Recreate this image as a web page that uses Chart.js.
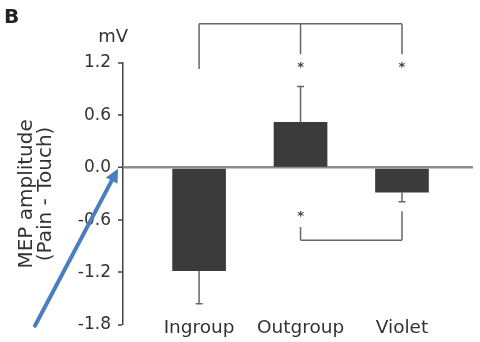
<!DOCTYPE html>
<html>
<head>
<meta charset="utf-8">
<script src="https://cdn.jsdelivr.net/npm/chart.js@4"></script>
<style>
  html, body { margin: 0; padding: 0; background: #fff; }
  #wrap { width: 480px; height: 342px; position: relative; }
</style>
</head>
<body>
<div id="wrap"><canvas id="chart"></canvas></div>
<script>
// 各条件の値（mV）
const categories = ['Ingroup', 'Outgroup', 'Violet'];
const meanValues = [-1.18, 0.52, -0.28];
const errorEnds = [-1.56, 0.93, -0.39];
const yTicks = [-1.8, -1.2, -0.6, 0.0, 0.6, 1.2];

// 有意差の括弧（上）: 高さ, 各脚の下端, アスタリスク
const topBracketLevel = 1.65;
const topBracketLegs = [1.13, 1.30, 1.30];
const topStars = [null, 1.17, 1.17];
// 有意差の括弧（下）: Outgroup - Violet
const bottomBracketLevel = -0.83;
const bottomBracketLegs = [null, -0.68, -0.50];
const bottomStars = [null, -0.54, null];

const FONT = '"DejaVu Sans", sans-serif';
const INK = '#333';
const LINE = '#666';

// 誤差棒・括弧・注釈を描くプラグイン
const extras = {
  id: 'extras',
  afterDatasetsDraw(chart) {
    const ctx = chart.ctx;
    const x = chart.scales.x, y = chart.scales.y;
    const px = i => x.getPixelForValue(i + 1);
    ctx.save();
    ctx.strokeStyle = LINE;
    ctx.lineWidth = 1.5;

    // 誤差棒
    meanValues.forEach((v, i) => {
      const cx = px(i);
      ctx.beginPath();
      ctx.moveTo(cx, y.getPixelForValue(v));
      ctx.lineTo(cx, y.getPixelForValue(errorEnds[i]));
      ctx.moveTo(cx - 3.5, y.getPixelForValue(errorEnds[i]));
      ctx.lineTo(cx + 3.5, y.getPixelForValue(errorEnds[i]));
      ctx.stroke();
    });

    // 上の括弧
    ctx.beginPath();
    ctx.moveTo(px(0), y.getPixelForValue(topBracketLevel));
    ctx.lineTo(px(2), y.getPixelForValue(topBracketLevel));
    topBracketLegs.forEach((end, i) => {
      ctx.moveTo(px(i), y.getPixelForValue(topBracketLevel));
      ctx.lineTo(px(i), y.getPixelForValue(end));
    });
    ctx.stroke();

    // 下の括弧
    ctx.beginPath();
    ctx.moveTo(px(1), y.getPixelForValue(bottomBracketLevel));
    ctx.lineTo(px(2), y.getPixelForValue(bottomBracketLevel));
    bottomBracketLegs.forEach((end, i) => {
      if (end === null) return;
      ctx.moveTo(px(i), y.getPixelForValue(bottomBracketLevel));
      ctx.lineTo(px(i), y.getPixelForValue(end));
    });
    ctx.stroke();

    // アスタリスク
    ctx.fillStyle = '#444';
    ctx.font = 'bold 13px ' + FONT;
    ctx.textAlign = 'center';
    ctx.textBaseline = 'alphabetic';
    topStars.concat(bottomStars).forEach((s, k) => {
      if (s === null) return;
      ctx.fillText('*', px(k % 3), y.getPixelForValue(s) + 5);
    });

    // mV
    ctx.fillStyle = INK;
    ctx.font = '18px ' + FONT;
    ctx.textAlign = 'right';
    ctx.textBaseline = 'middle';
    ctx.fillText('mV', chart.chartArea.left + 5, 37);

    // パネル記号
    ctx.font = 'bold 20px ' + FONT;
    ctx.textAlign = 'left';
    ctx.fillStyle = '#222';
    ctx.fillText('B', 4, 18);

    // 青い矢印
    const tipX = chart.chartArea.left - 5, tipY = y.getPixelForValue(0) + 1;
    const tailX = 35, tailY = y.getPixelForValue(yTicks[0]) + 1;
    const ang = Math.atan2(tipY - tailY, tipX - tailX);
    const head = 15;
    ctx.strokeStyle = '#4a7ebf';
    ctx.fillStyle = '#4a7ebf';
    ctx.lineWidth = 4;
    ctx.lineCap = 'round';
    ctx.beginPath();
    ctx.moveTo(tailX, tailY);
    ctx.lineTo(tipX - Math.cos(ang) * head * 0.8, tipY - Math.sin(ang) * head * 0.8);
    ctx.stroke();
    ctx.beginPath();
    ctx.moveTo(tipX, tipY);
    ctx.lineTo(tipX - head * Math.cos(ang - 0.45), tipY - head * Math.sin(ang - 0.45));
    ctx.lineTo(tipX - head * Math.cos(ang + 0.45), tipY - head * Math.sin(ang + 0.45));
    ctx.closePath();
    ctx.fill();
    ctx.restore();
  }
};

const ctx = document.getElementById('chart').getContext('2d');
const chart = new Chart(ctx, {
  type: 'bar',
  data: {
    datasets: [{
      data: meanValues.map((v, i) => ({ x: i + 1, y: v })),
      backgroundColor: '#3b3b3b',
      borderWidth: 0,
      barThickness: 53
    }]
  },
  options: {
    responsive: true,
    maintainAspectRatio: false,
    animation: false,
    layout: { padding: { top: 63, right: 7, left: 0, bottom: 0 } },
    plugins: { legend: { display: false }, tooltip: { enabled: false } },
    scales: {
      x: {
        type: 'linear',
        offset: false,
        min: 0.25,
        max: 3.7,
        grid: { display: false },
        border: { display: false },
        afterBuildTicks: s => { s.ticks = categories.map((c, i) => ({ value: i + 1 })); },
        afterFit: s => { s.height = 14; },
        ticks: {
          mirror: true,
          padding: -14,
          autoSkip: false,
          maxRotation: 0,
          color: INK,
          font: { family: FONT, size: 18.5 },
          callback: v => categories[v - 1]
        }
      },
      y: {
        min: yTicks[0],
        max: yTicks[yTicks.length - 1],
        afterBuildTicks: s => { s.ticks = yTicks.map(v => ({ value: v })); },
        afterFit: s => { s.width = 123; },
        border: { display: true, color: '#444', width: 1.5 },
        grid: {
          drawOnChartArea: true,
          drawTicks: true,
          tickLength: 5,
          tickColor: '#444',
          tickWidth: 1.5,
          color: c => (c.tick && c.tick.value === 0 ? '#8c8c8c' : 'rgba(0,0,0,0)'),
          lineWidth: c => (c.tick && c.tick.value === 0 ? 2.5 : 0)
        },
        ticks: {
          padding: 7,
          color: INK,
          font: { family: FONT, size: 17 },
          callback: v => v.toFixed(1)
        },
        title: {
          display: true,
          text: ['MEP amplitude', '(Pain - Touch)'],
          color: INK,
          font: { family: FONT, size: 20, lineHeight: 0.95 },
          padding: { top: 17, bottom: 4 }
        }
      }
    }
  },
  plugins: [extras]
});
</script>
</body>
</html>
